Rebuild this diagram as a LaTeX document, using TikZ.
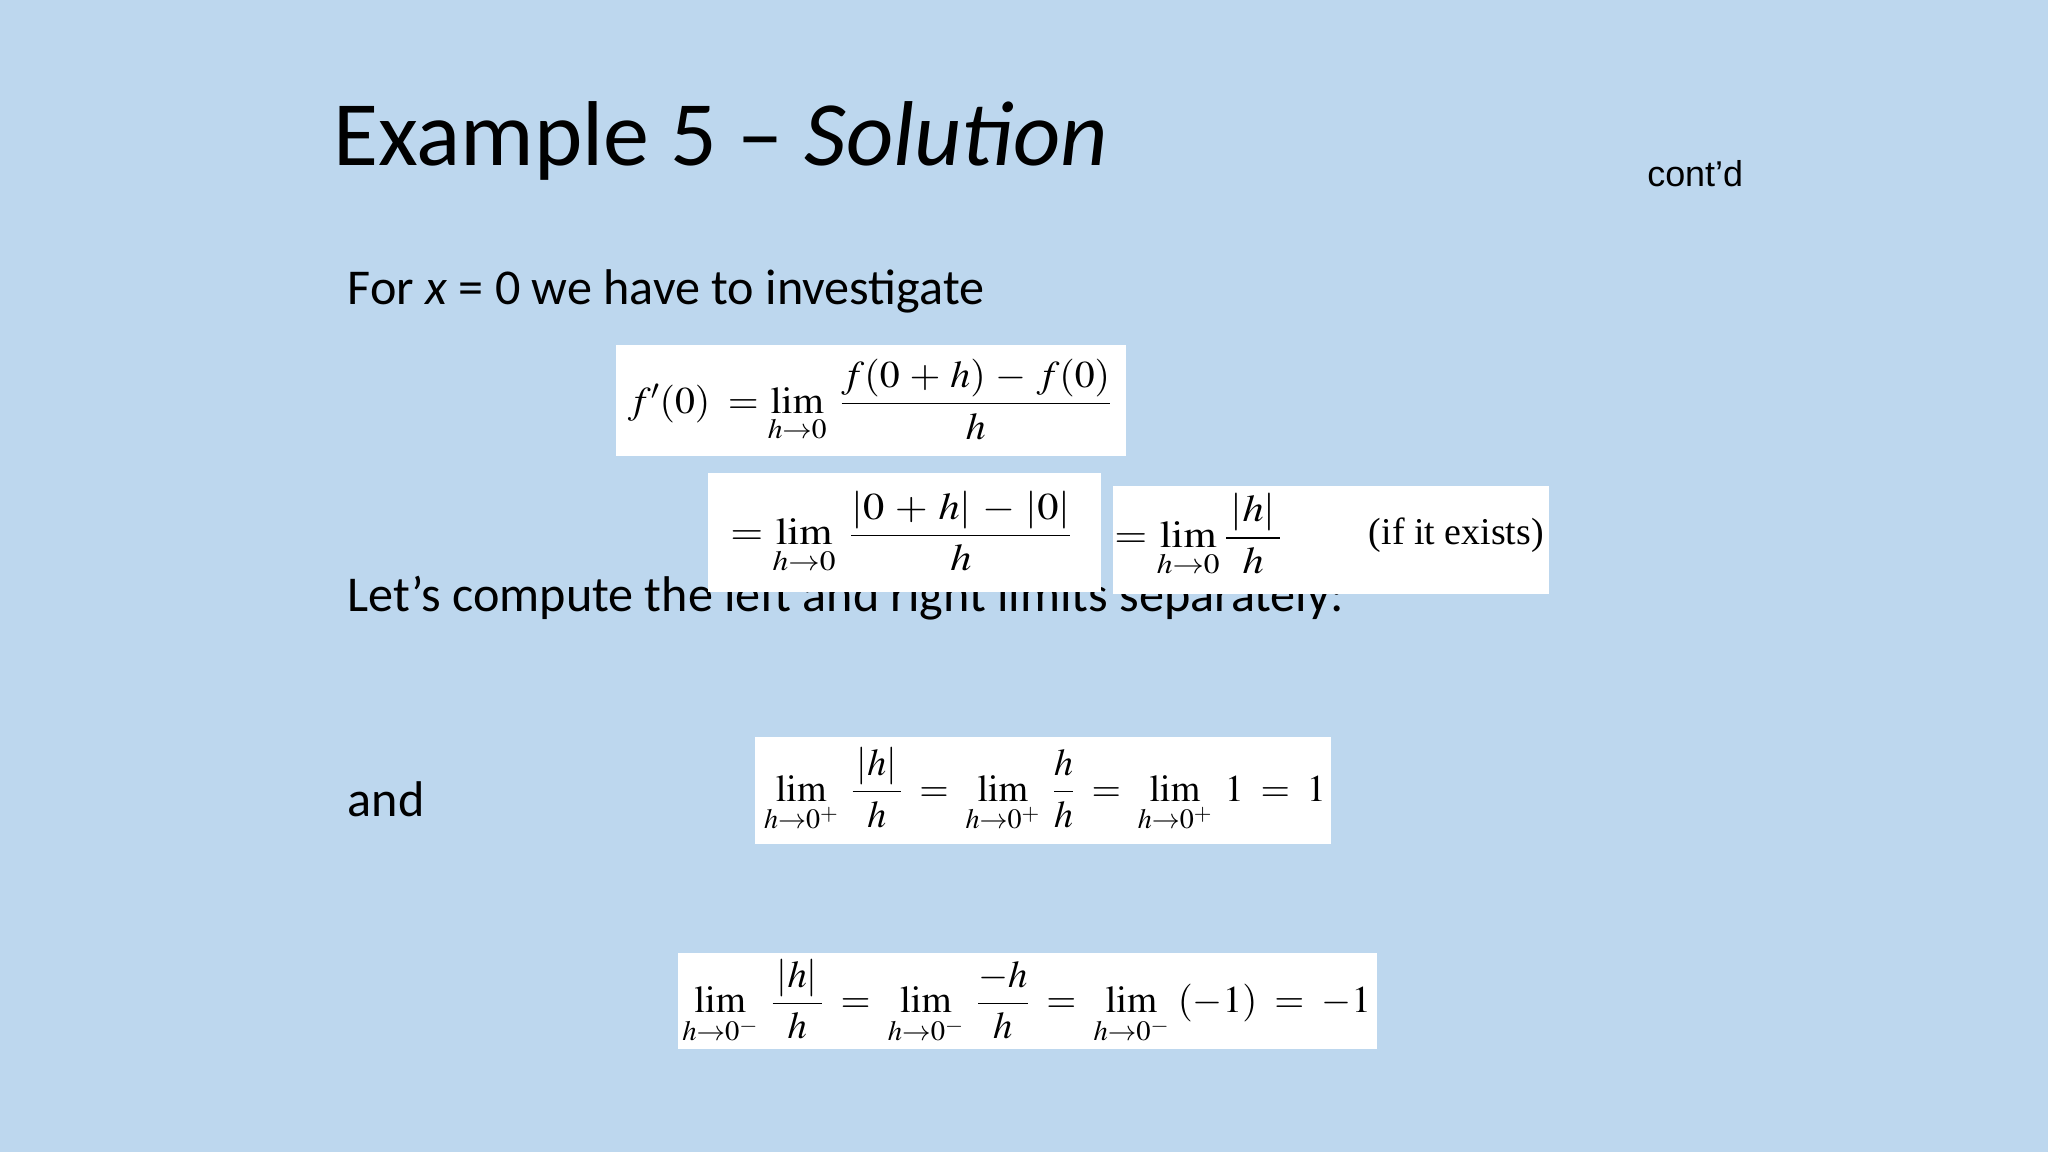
\documentclass[tikz,border=0pt]{standalone}
\usepackage{amsmath}
\usepackage{mathptmx}
\usepackage{fontspec}
\setmainfont{Carlito}
\newfontfamily\arialf{Liberation Sans}
\newfontfamily\timesf{Liberation Serif}
\begin{document}
\begin{tikzpicture}[x=1pt,y=-1pt,
  wbox/.style={fill=white,draw=none},
  mth/.style={font=\fontsize{29}{34}\selectfont,inner sep=0pt,xscale=1.12},
  txt/.style={anchor=base west,inner sep=0pt,font=\fontsize{38.4}{46}\selectfont}]
\fill[fill={rgb,255:red,189;green,215;blue,238}] (0,0) rectangle (1568,882);
\useasboundingbox (0,0) rectangle (1568,882);
\node[anchor=base west,inner sep=0pt,font=\fontsize{70.5}{82}\selectfont] (title) at (255,127) {Example 5 -- \textit{Solution}};
\node[anchor=base west,inner sep=0pt,font=\arialf\fontsize{27.5}{32}\selectfont] (contd) at (1261,143) {cont’d};
\node[txt] (t1) at (266,233) {For \textit{x} = 0 we have to investigate};
\node[txt] (t2) at (266,468) {Let’s compute the left and right limits separately:};
\node[txt] (t3) at (266,625) {and};
\fill[wbox] (472,264) rectangle (862,349);
\node[mth,xscale=1/1.12*1.05] (e1) at (666,307) {$f'(0)\;=\displaystyle\lim_{h\to0}\;\frac{f(0\,+\,h)\,-\,f(0)}{h}$};
\fill[wbox] (542,362) rectangle (843,453);
\node[mth] (e2) at (690,408) {$=\displaystyle\lim_{h\to0}\;\frac{|0\,+\,h|\,-\,|0|}{h}$};
\fill[wbox] (852,372) rectangle (1186,455);
\node[mth,anchor=west] (e3) at (853,410) {$=\displaystyle\lim_{h\to0}\frac{\,|h|\,}{h}$};
\node[anchor=east,inner sep=0pt,font=\timesf\fontsize{29}{34}\selectfont] (e3b) at (1182,410) {(if it exists)};
\fill[wbox] (578,564) rectangle (1019,646);
\node[mth,xscale=1/1.12] (e4) at (800,605) {$\displaystyle\lim_{h\to0^+}\;\frac{\,|h|\,}{h}\;=\;\lim_{h\to0^+}\;\frac{h}{h}\;=\;\lim_{h\to0^+}\;1\;=\;1$};
\fill[wbox] (519,730) rectangle (1054,803);
\node[mth,xscale=1/1.12*1.02] (e5) at (786,767) {$\displaystyle\lim_{h\to0^-}\;\frac{\,|h|\,}{h}\;=\;\lim_{h\to0^-}\;\frac{-h}{h}\;=\;\lim_{h\to0^-}\;(-1)\;=\;-1$};
\end{tikzpicture}
\end{document}
